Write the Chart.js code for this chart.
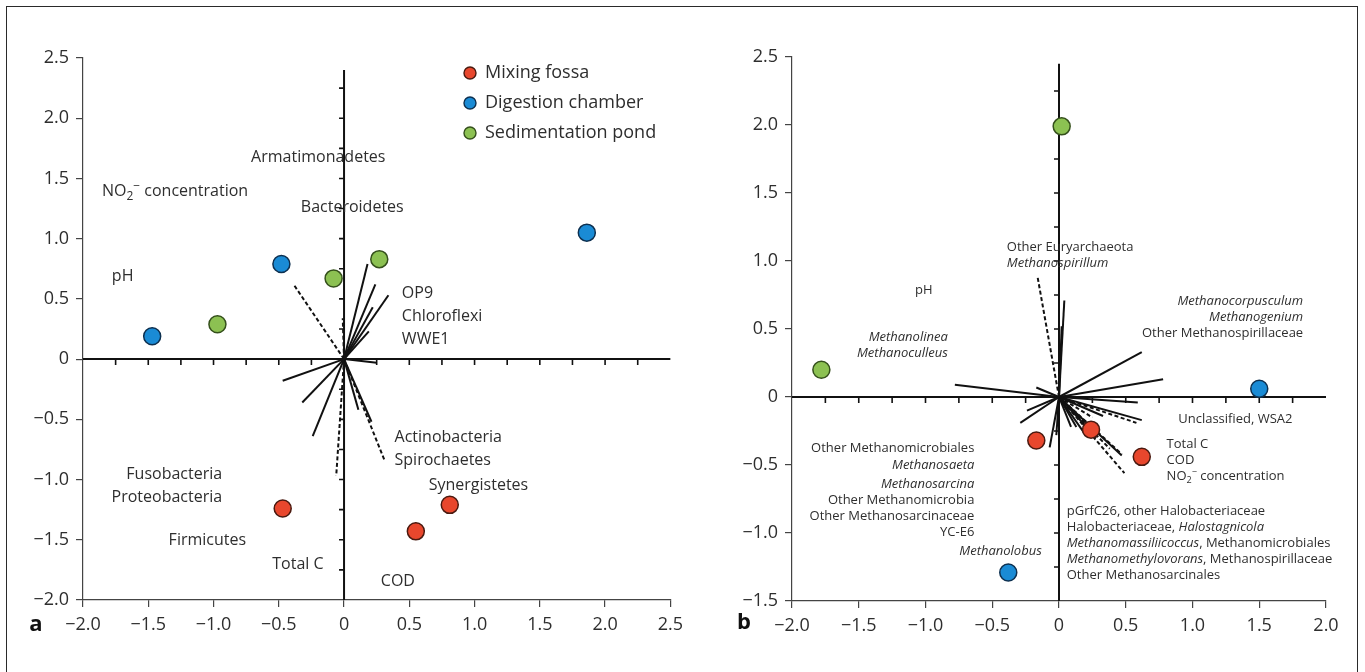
<!DOCTYPE html>
<html>
<head>
<meta charset="utf-8">
<script src="https://cdn.jsdelivr.net/npm/chart.js@4/dist/chart.umd.min.js"></script>
<style>
  html, body { margin: 0; padding: 0; background: #fff; }
  body { width: 1365px; height: 672px; position: relative; overflow: hidden; font-family: "Open Sans", sans-serif; }
  #frame { position: absolute; left: 6px; top: 6px; width: 1352px; height: 720px; border: 1.5px solid #2a2a2a; box-sizing: border-box; }
  .panel { position: absolute; top: 0; height: 672px; }
  #wrapA { left: 0; width: 690px; }
  #wrapB { left: 690px; width: 675px; }
</style>
</head>
<body>
<div id="frame"></div>
<div class="panel" id="wrapA"><canvas id="chartA"></canvas></div>
<div class="panel" id="wrapB"><canvas id="chartB"></canvas></div>
<script>
// ---------- Panel a: bacterial community (RDA site scores) ----------
const groupNames = ['Mixing fossa', 'Digestion chamber', 'Sedimentation pond'];
const groupColors = ['#e8472d', '#1a8bd5', '#8cc152'];
const groupEdges = ['#4a1a10', '#0d3050', '#35501c'];

const mixingA = [[-0.47, -1.24], [0.55, -1.43], [0.81, -1.21]];
const digestionA = [[-1.47, 0.19], [-0.48, 0.79], [1.86, 1.05]];
const sedimentA = [[-0.97, 0.29], [-0.08, 0.67], [0.27, 0.83]];

// arrow tips (origin at 0,0)
const solidA = [[0.18, 0.79], [0.24, 0.62], [0.34, 0.53], [0.22, 0.43], [0.19, 0.23],
  [0.25, -0.03], [-0.47, -0.18], [-0.32, -0.36], [-0.24, -0.64], [0.11, -0.42], [0.21, -0.52]];
const dashedA = [[-0.38, 0.61], [-0.01, 0.34], [-0.06, -0.97], [0.31, -0.84]];

// label anchors: [x, y, align, text]  (*italic*, _{sub}, ^{sup})
const labelsA = [
  [-0.712, 1.672, 'left', 'Armatimonadetes'],
  [-1.855, 1.39, 'left', 'NO_{2}^{\u2212} concentration'],
  [-0.331, 1.262, 'left', 'Bacteroidetes'],
  [-1.779, 0.684, 'left', 'pH'],
  [0.443, 0.548, 'left', 'OP9'],
  [0.443, 0.357, 'left', 'Chloroflexi'],
  [0.443, 0.166, 'left', 'WWE1'],
  [0.387, -0.654, 'left', 'Actinobacteria'],
  [0.387, -0.841, 'left', 'Spirochaetes'],
  [0.649, -1.049, 'left', 'Synergistetes'],
  [-0.934, -0.958, 'right', 'Fusobacteria'],
  [-0.934, -1.146, 'right', 'Proteobacteria'],
  [-1.344, -1.503, 'left', 'Firmicutes'],
  [-0.55, -1.703, 'left', 'Total C'],
  [0.282, -1.844, 'left', 'COD']
];

// ---------- Panel b: archaeal community ----------
const mixingB = [[-0.17, -0.32], [0.24, -0.24], [0.62, -0.44]];
const digestionB = [[1.50, 0.06], [-0.38, -1.29]];
const sedimentB = [[-1.78, 0.20], [0.02, 1.99]];

const solidB = [[0.04, 0.71], [0.02, 0.52], [0.62, 0.33], [0.78, 0.13], [-0.78, 0.09],
  [-0.17, 0.07], [-0.24, -0.10], [-0.29, -0.19], [-0.07, -0.37], [0.59, -0.04],
  [0.62, -0.17], [0.33, -0.14], [0.47, -0.43], [0.13, -0.22], [0.09, -0.22],
  [0.20, -0.28], [0.28, -0.30], [-0.02, -0.28], [0.16, -0.16]];
const dashedB = [[-0.16, 0.88], [0.58, -0.19], [0.49, -0.56], [0.47, -0.42], [0.38, -0.38], [0.25, -0.15]];

const labelsB = [
  [-0.391, 1.101, 'left', 'Other Euryarchaeota'],
  [-0.391, 0.983, 'left', '*Methanospirillum*'],
  [-1.078, 0.787, 'left', 'pH'],
  [-0.833, 0.439, 'right', '*Methanolinea*'],
  [-0.833, 0.321, 'right', '*Methanoculleus*'],
  [1.829, 0.701, 'right', '*Methanocorpusculum*'],
  [1.829, 0.583, 'right', '*Methanogenium*'],
  [1.829, 0.468, 'right', 'Other Methanospirillaceae'],
  [0.893, -0.164, 'left', 'Unclassified, WSA2'],
  [0.806, -0.346, 'left', 'Total C'],
  [0.806, -0.468, 'left', 'COD'],
  [0.806, -0.586, 'left', 'NO_{2}^{\u2212} concentration'],
  [-0.634, -0.377, 'right', 'Other Methanomicrobiales'],
  [-0.634, -0.500, 'right', '*Methanosaeta*'],
  [-0.634, -0.642, 'right', '*Methanosarcina*'],
  [-0.634, -0.762, 'right', 'Other Methanomicrobia'],
  [-0.634, -0.880, 'right', 'Other Methanosarcinaceae'],
  [-0.634, -0.998, 'right', 'YC-E6'],
  [-0.129, -1.138, 'right', '*Methanolobus*'],
  [0.058, -0.843, 'left', 'pGrfC26, other Halobacteriaceae'],
  [0.058, -0.961, 'left', 'Halobacteriaceae, *Halostagnicola*'],
  [0.058, -1.079, 'left', '*Methanomassiliicoccus*, Methanomicrobiales'],
  [0.058, -1.196, 'left', '*Methanomethylovorans*, Methanospirillaceae'],
  [0.058, -1.314, 'left', 'Other Methanosarcinales']
];

const FONT = '"Open Sans", "Noto Sans", sans-serif';
const TEXT_COLOR = '#2e2e2e';

function tickFmt(v) {
  if (Math.abs(v) < 1e-9) return '0';
  return (v < 0 ? '\u2212' : '') + Math.abs(v).toFixed(1);
}

// split "*italic* _{sub} ^{sup}" into runs
function parseRich(str) {
  const segs = [];
  let italic = false, buf = '', i = 0;
  const flush = () => { if (buf) { segs.push({ t: buf, it: italic }); buf = ''; } };
  while (i < str.length) {
    const c = str[i];
    if (c === '*') { flush(); italic = !italic; i++; }
    else if ((c === '_' || c === '^') && str[i + 1] === '{') {
      flush();
      const j = str.indexOf('}', i);
      segs.push({ t: str.slice(i + 2, j), it: italic, shift: c === '_' ? 'sub' : 'sup' });
      i = j + 1;
    } else { buf += c; i++; }
  }
  flush();
  return segs;
}

function drawRich(ctx, str, x, y, size, align) {
  const segs = parseRich(str);
  const fontFor = s => (s.it ? 'italic ' : '') + (s.shift ? Math.round(size * 0.72) : size) + 'px ' + FONT;
  let w = 0;
  segs.forEach(s => { ctx.font = fontFor(s); s.w = ctx.measureText(s.t).width; w += s.w; });
  let cx = align === 'right' ? x - w : (align === 'center' ? x - w / 2 : x);
  ctx.textAlign = 'left';
  ctx.textBaseline = 'middle';
  segs.forEach(s => {
    ctx.font = fontFor(s);
    const dy = s.shift === 'sub' ? size * 0.3 : (s.shift === 'sup' ? -size * 0.32 : 0);
    ctx.fillText(s.t, cx, y + dy);
    cx += s.w;
  });
}

// axes crossing at the origin, with minor ticks every 0.25
const crossAxes = {
  id: 'crossAxes',
  beforeDatasetsDraw(chart, args, opts) {
    const { ctx, scales: { x, y } } = chart;
    const x0 = x.getPixelForValue(0), y0 = y.getPixelForValue(0);
    ctx.save();
    ctx.strokeStyle = '#111';
    ctx.lineWidth = 2;
    ctx.beginPath();
    ctx.moveTo(x0, y.getPixelForValue(opts.top));
    ctx.lineTo(x0, y.getPixelForValue(y.min));
    ctx.moveTo(x.getPixelForValue(x.min), y0);
    ctx.lineTo(x.getPixelForValue(x.max), y0);
    ctx.stroke();
    ctx.lineWidth = 1.6;
    ctx.beginPath();
    for (let v = x.min + 0.25; v < x.max - 1e-6; v += 0.25) {
      if (Math.abs(v) < 1e-6) continue;
      const px = x.getPixelForValue(v);
      ctx.moveTo(px, y0); ctx.lineTo(px, y0 + 6);
    }
    for (let v = y.min + 0.25; v < opts.top - 1e-6; v += 0.25) {
      if (Math.abs(v) < 1e-6) continue;
      const py = y.getPixelForValue(v);
      ctx.moveTo(x0, py); ctx.lineTo(x0 - 5, py);
    }
    ctx.stroke();
    ctx.restore();
  }
};

// text annotations, panel letter and legend
const annotations = {
  id: 'annotations',
  afterDatasetsDraw(chart, args, opts) {
    const { ctx, scales: { x, y } } = chart;
    ctx.save();
    ctx.fillStyle = TEXT_COLOR;
    opts.labels.forEach(([lx, ly, align, text]) => {
      drawRich(ctx, text, x.getPixelForValue(lx), y.getPixelForValue(ly), opts.size, align);
    });
    // panel letter
    ctx.fillStyle = '#111';
    ctx.font = 'bold 22px ' + FONT;
    ctx.textAlign = 'center';
    ctx.textBaseline = 'middle';
    ctx.fillText(opts.letter, opts.letterX, opts.letterY);
    // legend
    if (opts.legend) {
      const lg = opts.legend;
      groupNames.forEach((name, i) => {
        const cy = lg.y + i * lg.gap;
        ctx.beginPath();
        ctx.arc(lg.x, cy, 6, 0, Math.PI * 2);
        ctx.fillStyle = groupColors[i];
        ctx.fill();
        ctx.lineWidth = 1.4;
        ctx.strokeStyle = groupEdges[i];
        ctx.stroke();
        ctx.fillStyle = TEXT_COLOR;
        ctx.font = '18px ' + FONT;
        ctx.textAlign = 'left';
        ctx.textBaseline = 'middle';
        ctx.fillText(name, lg.x + 15, cy);
      });
    }
    ctx.restore();
  }
};

function axis(min, max, fit) {
  return {
    type: 'linear', min, max,
    ticks: { stepSize: 0.5, callback: tickFmt, font: { size: 18, family: FONT }, color: TEXT_COLOR, padding: 7, maxRotation: 0, autoSkip: false },
    grid: { drawOnChartArea: false, drawTicks: true, tickLength: 7, color: '#444', lineWidth: 1.2 },
    border: { display: true, color: '#444', width: 1.2 },
    afterFit: fit
  };
}

function build(canvasId, p) {
  const datasets = [];
  [p.mixing, p.digestion, p.sediment].forEach((pts, i) => {
    datasets.push({
      label: groupNames[i], type: 'scatter',
      data: pts.map(([x, y]) => ({ x, y })),
      backgroundColor: groupColors[i], borderColor: groupEdges[i], borderWidth: 1.5,
      pointRadius: 8.5, pointHoverRadius: 8.5
    });
  });
  p.solid.forEach(([x, y]) => datasets.push({
    type: 'scatter', showLine: true, data: [{ x: 0, y: 0 }, { x, y }],
    borderColor: '#111', borderWidth: 2, pointRadius: 0, fill: false
  }));
  p.dashed.forEach(([x, y]) => datasets.push({
    type: 'scatter', showLine: true, data: [{ x: 0, y: 0 }, { x, y }],
    borderColor: '#111', borderWidth: 2, borderDash: [4, 2.5], pointRadius: 0, fill: false
  }));
  return new Chart(document.getElementById(canvasId), {
    type: 'scatter',
    data: { datasets },
    options: {
      responsive: true, maintainAspectRatio: false, animation: false,
      layout: { padding: p.padding },
      events: [],
      scales: {
        x: axis(p.xMin, p.xMax, s => { s.height = p.xAxisH; }),
        y: axis(p.yMin, p.yMax, s => { s.width = p.yAxisW; })
      },
      plugins: {
        legend: { display: false },
        tooltip: { enabled: false },
        crossAxes: { top: p.crossTop },
        annotations: { labels: p.labels, size: p.labelSize, letter: p.letter, letterX: p.letterX, letterY: p.letterY, legend: p.legend }
      }
    },
    plugins: [crossAxes, annotations]
  });
}

build('chartA', {
  mixing: mixingA, digestion: digestionA, sediment: sedimentA,
  solid: solidA, dashed: dashedA, labels: labelsA, labelSize: 16,
  xMin: -2, xMax: 2.5, yMin: -2, yMax: 2.5, crossTop: 2.4,
  padding: { top: 58, right: 17, left: 0, bottom: 0 }, yAxisW: 83, xAxisH: 72,
  letter: 'a', letterX: 36, letterY: 625,
  legend: { x: 470, y: 73, gap: 30 }
});

build('chartB', {
  mixing: mixingB, digestion: digestionB, sediment: sedimentB,
  solid: solidB, dashed: dashedB, labels: labelsB, labelSize: 13,
  xMin: -2, xMax: 2, yMin: -1.5, yMax: 2.5, crossTop: 2.45,
  padding: { top: 57, right: 39, left: 0, bottom: 0 }, yAxisW: 102, xAxisH: 71,
  letter: 'b', letterX: 54, letterY: 623,
  legend: null
});
</script>
</body>
</html>
